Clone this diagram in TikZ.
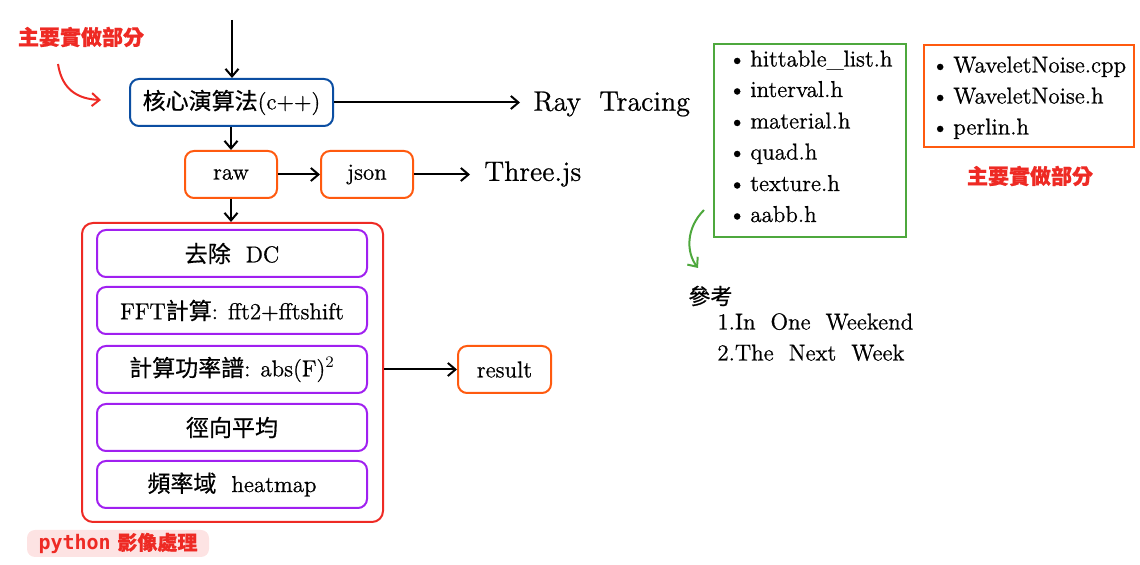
\documentclass[tikz,border=0pt]{standalone}
\usepackage{fontspec}
\setmainfont{Latin Modern Roman}[FakeBold=0.8]
\newfontfamily\cjk{Noto Sans CJK TC}[FakeBold=0.6]
\newfontfamily\codefont{DejaVu Sans Mono}
\usetikzlibrary{arrows.meta}
\definecolor{cblue}{HTML}{0B4EA2}
\definecolor{corange}{HTML}{FF5A0F}
\definecolor{cred}{HTML}{EE2A24}
\definecolor{cpurple}{HTML}{A020F0}
\definecolor{cgreen}{HTML}{4EA83D}
\definecolor{cpink}{HTML}{FDE3E3}
\newcommand{\zh}[1]{{\cjk #1}}
\newcommand{\bul}{\textbullet\hspace{2.2pt}}
\tikzset{
  box/.style={draw, rounded corners=4.5pt, line width=1pt, inner sep=0pt,
    minimum height=23.5pt, font=\fontsize{11.5}{13}\selectfont},
  flow/.style={line width=1pt, -{Straight Barb[length=3.8pt,width=6.5pt,line width=1pt]}},
  txt/.style={inner sep=0pt, anchor=west},
  item/.style={inner sep=0pt, anchor=base west, font=\fontsize{11.5}{13}\selectfont},
  redlab/.style={inner sep=0pt, text=cred, font=\fontsize{10.5}{12}\selectfont\cjk\bfseries},
}
\begin{document}
\begin{tikzpicture}[x=0.5pt,y=-0.5pt]
\useasboundingbox (0,0) rectangle (1140,565);

% main flow
\coordinate (top) at (232,20);
\node[box, draw=cblue, minimum width=101.5pt] (core) at (231.5,102.5) {\zh{核心演算法}(c++)};
\coordinate (rayend) at (520,102.5);
\node[txt, font=\fontsize{14}{16}\selectfont] (ray) at (533,104) {Ray\ \ Tracing};
\node[box, draw=corange, minimum width=46pt] (raw) at (231,174.5) {raw};
\node[box, draw=corange, minimum width=46pt] (json) at (367,174.5) {json};
\coordinate (threeend) at (470,174.5);
\node[txt, font=\fontsize{14}{16}\selectfont] (three) at (484,174) {Three.js};

\draw[flow] (top) -- (core.north -| top);
\draw[flow] (core.east) -- (rayend);
\draw[flow] (core.south -| raw.north) -- (raw.north);
\draw[flow] (raw) -- (json);
\draw[flow] (json.east) -- (threeend);

% python block
\node[draw=cred, line width=1pt, rounded corners=5.5pt, minimum width=150.5pt,
      minimum height=149.5pt, inner sep=0pt] (pybox) at (232.5,372.5) {};
\draw[flow] (raw.south) -- (pybox.north -| raw.south);
\node[box, draw=cpurple, minimum width=135pt] (p1) at (232,253.5) {\zh{去除}\ \ DC};
\node[box, draw=cpurple, minimum width=135pt] (p2) at (232,310.5) {FFT\zh{計算}: fft2+fftshift};
\node[box, draw=cpurple, minimum width=135pt] (p3) at (232,369.5) {\zh{計算功率譜}: abs(F)$^2$};
\node[box, draw=cpurple, minimum width=135pt] (p4) at (232,427.5) {\zh{徑向平均}};
\node[box, draw=cpurple, minimum width=135pt] (p5) at (232,484.5) {\zh{頻率域}\ \ heatmap};
\node[box, draw=corange, minimum width=46.5pt] (result) at (504.5,369.5) {result};
\draw[flow] (pybox.east |- result.west) -- (result.west);
\node[fill=cpink, rounded corners=4pt, minimum width=91pt, minimum height=13.5pt,
      inner sep=0pt, text=cred, font=\fontsize{10}{12}\selectfont] (pylab) at (118,543.5)
      {{\codefont\bfseries python} \zh{\bfseries 影像處理}};

% red annotation left
\node[redlab] (note1) at (81,37) {主要實做部分};
\coordinate (ra1) at (58,64);
\coordinate (ra2) at (101,100);
\draw[flow, draw=cred] (ra1) .. controls (62,90) and (78,99) .. (ra2);

% green list
\node[draw=cgreen, line width=1pt, minimum width=96pt, minimum height=96.5pt,
      inner sep=0pt] (gbox) at (810,140.5) {};
\node[item] (g1) at (728,66.5) {\bul hittable\_list.h};
\node[item] (g2) at (728,97) {\bul interval.h};
\node[item] (g3) at (728,128.5) {\bul material.h};
\node[item] (g4) at (728,159.5) {\bul quad.h};
\node[item] (g5) at (728,191) {\bul texture.h};
\node[item] (g6) at (728,222) {\bul aabb.h};

% orange list
\node[draw=corange, line width=1pt, minimum width=105pt, minimum height=51pt,
      inner sep=0pt] (obox) at (1029,96) {};
\node[item] (o1) at (931,72.5) {\bul WaveletNoise.cpp};
\node[item] (o2) at (931,103.5) {\bul WaveletNoise.h};
\node[item] (o3) at (931,134.5) {\bul perlin.h};
\node[redlab] (note2) at (1030,176) {主要實做部分};

% references
\coordinate (ga1) at (704,210);
\coordinate (ga2) at (698,268);
\draw[flow, draw=cgreen] (ga1) .. controls (686,228) and (686,252) .. (ga2);
\node[txt, font=\fontsize{11}{13}\selectfont\cjk] (ref) at (688,296) {參考};
\node[item] (r1) at (717,329.5) {1.In\ \ One\ \ Weekend};
\node[item] (r2) at (717,360.5) {2.The\ \ Next\ \ Week};
\end{tikzpicture}
\end{document}
